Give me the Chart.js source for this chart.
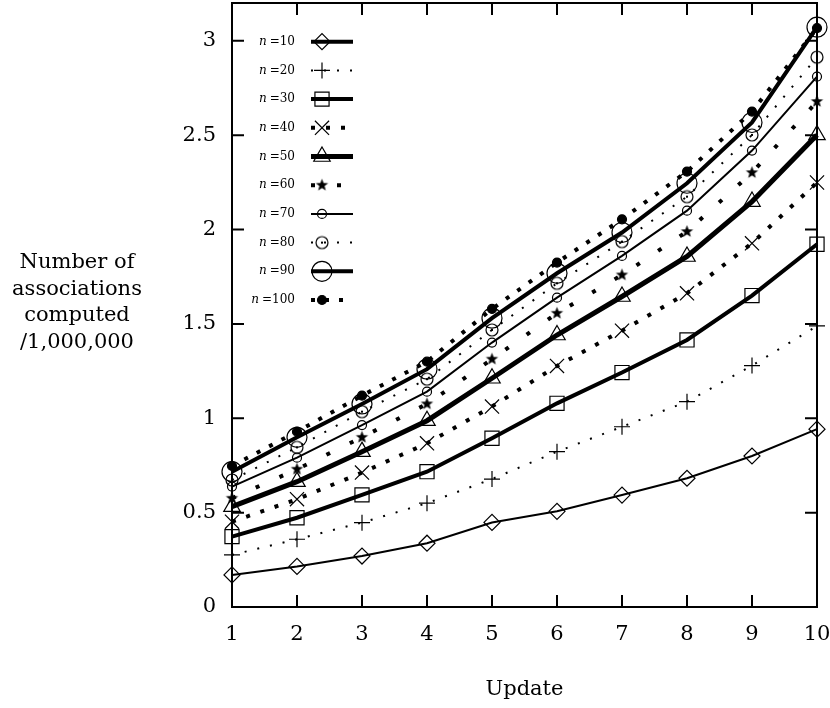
<!DOCTYPE html>
<html>
<head>
<meta charset="utf-8">
<script src="https://cdn.jsdelivr.net/npm/chart.js@4/dist/chart.umd.min.js"></script>
<style>
  html, body { margin: 0; padding: 0; background: #fff; }
  #wrap { width: 830px; height: 708px; }
</style>
</head>
<body>
<div id="wrap"><canvas id="assoc" width="830" height="708"></canvas></div>
<script>
/* data */
const updates = ["1", "2", "3", "4", "5", "6", "7", "8", "9", "10"];
const n10 = [0.17, 0.215, 0.27, 0.338, 0.448, 0.507, 0.593, 0.682, 0.8, 0.942];
const n20 = [0.276, 0.359, 0.447, 0.55, 0.678, 0.823, 0.955, 1.088, 1.279, 1.489];
const n30 = [0.373, 0.473, 0.594, 0.717, 0.894, 1.079, 1.242, 1.415, 1.65, 1.922];
const n40 = [0.452, 0.571, 0.712, 0.867, 1.062, 1.277, 1.464, 1.662, 1.927, 2.249];
const n50 = [0.532, 0.664, 0.823, 0.987, 1.212, 1.441, 1.645, 1.857, 2.148, 2.501];
const n60 = [0.576, 0.73, 0.899, 1.076, 1.313, 1.556, 1.759, 1.989, 2.301, 2.678];
const n70 = [0.638, 0.791, 0.964, 1.141, 1.401, 1.639, 1.86, 2.1, 2.418, 2.81];
const n80 = [0.673, 0.846, 1.035, 1.207, 1.468, 1.715, 1.936, 2.174, 2.501, 2.913];
const n90 = [0.717, 0.899, 1.076, 1.26, 1.53, 1.768, 1.984, 2.245, 2.567, 3.072];
const n100 = [0.747, 0.929, 1.12, 1.3, 1.579, 1.825, 2.054, 2.307, 2.625, 3.067];
const nLabels = ["10", "20", "30", "40", "50", "60", "70", "80", "90", "100"];
const yTicks = [0, 0.5, 1, 1.5, 2, 2.5, 3];
const yTitle = ["Number of", "associations", "computed", "/1,000,000"];
const xTitle = "Update";

const serif = "'DejaVu Serif', 'Liberation Serif', serif";

/* gnuplot-like markers that chart.js doesn't have */
function starMark(r) {
  const c = document.createElement("canvas");
  const s = Math.ceil(r * 2 + 2);
  c.width = s; c.height = s;
  const g = c.getContext("2d");
  g.beginPath();
  for (let i = 0; i < 10; i++) {
    const a = -Math.PI / 2 + i * Math.PI / 5;
    const rr = i % 2 === 0 ? r : r * 0.42;
    g.lineTo(s / 2 + rr * Math.cos(a), s / 2 + rr * Math.sin(a));
  }
  g.closePath();
  g.fillStyle = "#000";
  g.fill();
  return c;
}
function dotCircleMark(r) {
  const c = document.createElement("canvas");
  const s = Math.ceil(r * 2 + 4);
  c.width = s; c.height = s;
  const g = c.getContext("2d");
  g.strokeStyle = "#000";
  g.lineWidth = 1.2;
  g.beginPath();
  g.arc(s / 2, s / 2, r, 0, Math.PI * 2);
  g.stroke();
  g.fillStyle = "#000";
  g.fillRect(s / 2 - 1, s / 2 - 1, 2, 2);
  return c;
}

const series = [n10, n20, n30, n40, n50, n60, n70, n80, n90, n100];
const looks = [
  { width: 2, legendWidth: 4, dash: [], point: "rectRot", r: 8 },
  { width: 2, dash: [2, 11], point: "cross", r: 8 },
  { width: 4, dash: [], point: "rect", r: 10 },
  { width: 4, dash: [4, 11], point: "crossRot", r: 10 },
  { width: 5, dash: [], point: "triangle", r: 9.5 },
  { width: 4, dash: [4, 22], point: starMark(6.5), r: 6 },
  { width: 2, dash: [], point: "circle", r: 4.5 },
  { width: 2, dash: [2, 11], point: dotCircleMark(6), r: 6 },
  { width: 4, dash: [], point: "circle", r: 10 },
  { width: 4, dash: [4, 10], point: "circle", r: 4.5, fill: true },
];

const datasets = series.map((vals, i) => ({
  label: "n=" + nLabels[i],
  data: vals,
  borderColor: "#000",
  borderWidth: looks[i].width,
  borderDash: looks[i].dash,
  borderCapStyle: "butt",
  tension: 0,
  fill: false,
  clip: false,
  pointStyle: looks[i].point,
  pointRadius: looks[i].r,
  pointBorderColor: "#000",
  pointBorderWidth: 1.2,
  pointBackgroundColor: looks[i].fill ? "#000" : "rgba(0,0,0,0)",
}));

/* frame with inward ticks on all four sides */
const framePlugin = {
  id: "frame",
  beforeDatasetsDraw(chart) {
    const { ctx, chartArea: a, scales } = chart;
    ctx.save();
    ctx.strokeStyle = "#000";
    ctx.lineWidth = 2;
    ctx.strokeRect(a.left, a.top, a.right - a.left, a.bottom - a.top);
    ctx.beginPath();
    scales.x.ticks.forEach((t, i) => {
      const px = scales.x.getPixelForTick(i);
      ctx.moveTo(px, a.bottom); ctx.lineTo(px, a.bottom - 12);
      ctx.moveTo(px, a.top); ctx.lineTo(px, a.top + 12);
    });
    scales.y.ticks.forEach((t) => {
      const py = scales.y.getPixelForValue(t.value);
      ctx.moveTo(a.left, py); ctx.lineTo(a.left + 12, py);
      ctx.moveTo(a.right, py); ctx.lineTo(a.right - 12, py);
    });
    ctx.stroke();
    ctx.restore();
  },
};

/* horizontal y title on the left, like the original */
const yTitlePlugin = {
  id: "ytitle",
  afterDraw(chart) {
    const ctx = chart.ctx;
    ctx.save();
    ctx.fillStyle = "#000";
    ctx.font = "21px " + serif;
    ctx.textAlign = "center";
    ctx.textBaseline = "alphabetic";
    yTitle.forEach((line, i) => ctx.fillText(line, 77, 268 + i * 26.7));
    ctx.restore();
  },
};

/* gnuplot style key: label first, then line sample with marker */
const keyPlugin = {
  id: "key",
  afterDatasetsDraw(chart) {
    const ctx = chart.ctx;
    const drawPoint = Chart.helpers && Chart.helpers.drawPoint;
    ctx.save();
    chart.data.datasets.forEach((ds, i) => {
      const y = 41.7 + i * 28.7;
      ctx.fillStyle = "#000";
      ctx.textBaseline = "middle";
      ctx.textAlign = "right";
      ctx.font = "12px " + serif;
      const rest = "=" + nLabels[i];
      ctx.fillText(rest, 295, y);
      const w = ctx.measureText(rest).width;
      ctx.font = "italic 12px " + serif;
      ctx.fillText("n", 295 - w - 3, y);

      ctx.strokeStyle = "#000";
      ctx.lineWidth = looks[i].legendWidth || ds.borderWidth;
      ctx.lineCap = "butt";
      ctx.setLineDash(ds.borderDash);
      ctx.beginPath();
      ctx.moveTo(311, y);
      ctx.lineTo(353, y);
      ctx.stroke();
      ctx.setLineDash([]);
      if (drawPoint) {
        ctx.lineWidth = ds.pointBorderWidth;
        ctx.fillStyle = ds.pointBackgroundColor;
        drawPoint(ctx, {
          pointStyle: ds.pointStyle,
          radius: ds.pointRadius,
          borderWidth: ds.pointBorderWidth,
          rotation: 0,
        }, 322, y);
      }
    });
    ctx.restore();
  },
};

Chart.defaults.font.family = serif;
Chart.defaults.font.size = 21;
Chart.defaults.color = "#000";

new Chart(document.getElementById("assoc"), {
  type: "line",
  data: { labels: updates, datasets: datasets },
  options: {
    responsive: false,
    animation: false,
    events: [],
    layout: { autoPadding: false, padding: { top: 3, right: 13, left: 0, bottom: 0 } },
    plugins: {
      legend: { display: false },
      tooltip: { enabled: false },
    },
    scales: {
      x: {
        type: "category",
        offset: false,
        grid: { display: false, drawTicks: false },
        border: { display: false },
        ticks: { padding: 15, maxRotation: 0, autoSkip: false },
        title: { display: true, text: xTitle, padding: { top: 0, bottom: 6 } },
        afterFit(scale) {
          scale.height = 101;
          scale.paddingLeft = 0;
          scale.paddingRight = 0;
        },
      },
      y: {
        min: 0,
        max: 3.2,
        grid: { display: false, drawTicks: false },
        border: { display: false },
        ticks: { padding: 16, callback: (v) => String(v) },
        afterBuildTicks(scale) { scale.ticks = yTicks.map((v) => ({ value: v })); },
        afterFit(scale) {
          scale.width = 232;
          scale.paddingTop = 0;
          scale.paddingBottom = 0;
        },
      },
    },
  },
  plugins: [framePlugin, yTitlePlugin, keyPlugin],
});
</script>
</body>
</html>
